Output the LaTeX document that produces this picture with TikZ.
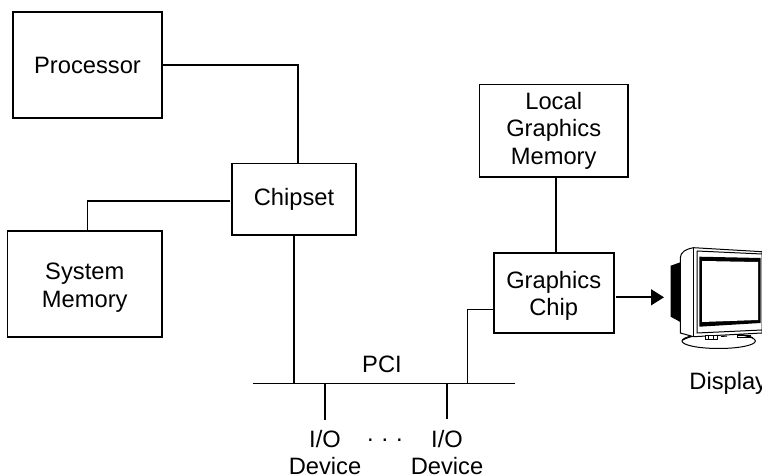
\documentclass[tikz,border=0pt]{standalone}
\usepackage{fontspec}
\setmainfont{Liberation Sans}
\usetikzlibrary{arrows.meta,positioning}
\tikzset{
  lbl/.style={font=\fontsize{11.85}{13.9}\selectfont, align=center, inner sep=0pt},
  box/.style={rectangle, draw=black, line width=.8pt, fill=white, lbl, outer sep=0pt},
  link/.style={line width=.8pt, draw=black},
  arr/.style={link, -{Triangle[length=6.5pt,width=8pt]}},
}

\begin{document}
\begin{tikzpicture}
  \useasboundingbox (0,0) rectangle (381pt,-238pt);

  \node[box, minimum width=74.5pt, minimum height=53pt] (proc) at (43.75pt,-32.5pt) {Processor};
  \node[box, minimum width=62pt, minimum height=35.75pt, below right=22.75pt and 35pt of proc] (chipset) {Chipset};
  \node[box, minimum width=77.25pt, minimum height=53pt, below left=-2pt and 35pt of chipset] (sysmem) {\rule{0pt}{12.2pt}System\\Memory};
  \node[box, minimum width=60pt, minimum height=40pt, below right=9.15pt and 68.85pt of chipset] (gchip) {\rule{0pt}{11.2pt}Graphics\\Chip};
  \node[box, minimum width=74.35pt, minimum height=46.15pt, above=38.15pt of gchip] (local) {Local\\Graphics\\Memory};

  % bus and its taps
  \coordinate[below left=74.25pt and 20.5pt of chipset.south] (busl);
  \coordinate[right=131pt of busl] (busr);
  \coordinate[right=36pt of busl] (tapa);
  \coordinate[right=64.5pt of busl] (tapp);
  \coordinate[right=97pt of busl] (tapb);
  \coordinate[right=107.25pt of busl] (tapg);

  \node[lbl, above=5pt of tapp] (pci) {PCI};
  \node[lbl, below=23pt of tapa] (deva) {I/O\\Device};
  \node[lbl, below=23pt of tapb] (devb) {I/O\\Device};
  \node[lbl, anchor=base] (dots) at (192.5pt,-221pt) {.\,\,.\,\,.};

  \draw[link] (busl)--(busr);
  \draw[link] (proc.east) -| ([xshift=2pt]chipset.north);
  \draw[link, shorten <=1pt] ([yshift=-.9pt]chipset.west) -| ([xshift=1.4pt]sysmem.north);
  \draw[link] (chipset.south)--(chipset.south |- busl);
  \draw[link] ([yshift=-8.2pt]gchip.west) -| (tapg);
  \draw[link] ([xshift=1.1pt]local.south)--([xshift=1.1pt]local.south |- gchip.north);
  \draw[link, shorten >=4.6pt] (tapa)--(deva.north);
  \draw[link, shorten >=5.1pt] (tapb)--(devb.north);

  \coordinate (mon) at (332pt,-148.65pt);
  \draw[arr] ([xshift=1.2pt]gchip.east |- mon)--(mon);

  % monitor, in pixels of the reference
  \begin{scope}[x=.5pt,y=-.5pt, line width=.5pt]
    \draw[fill=white] (718.7,341) ellipse (36.7 and 7.5);
    \draw (683,340) .. controls (695,332) and (742,331) .. (753,338);
    \fill[black] (670.7,265.7)--(680.3,262.3)--(680.3,322)--(670.7,316.7)--cycle;
    \draw[fill=white] (680.3,333) -- (680.3,258) .. controls (680.3,252) and (686,249) .. (693.7,247.7)
      -- (762,251.7) -- (762,333) -- (693.7,336.7) -- cycle;
    \draw (693.7,247.7)--(693.7,336.7);
    \draw (697,251)--(697,333)--(762,330);
    \draw (697,251)--(762,254);
    \fill[black] (699.3,256.7)--(760.5,258)--(760.5,323)--(699.3,326.7)--cycle;
    \fill[white] (702,261)--(758,262)--(758,320)--(702,322)--cycle;
    \draw[fill=white] (705,336) rectangle (717,340);
    \draw (708.5,336)--(708.5,340) (713,336)--(713,340);
    \draw (737,335.5) rectangle (750,337.5);
    \draw (721,336.5)--(727,336);
  \end{scope}

  \node[lbl, anchor=base west] (disp) at (344.5pt,-195pt) {Display};
\end{tikzpicture}
\end{document}
